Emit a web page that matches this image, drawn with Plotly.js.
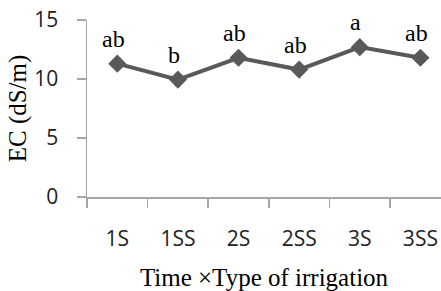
<!DOCTYPE html>
<html>
<head>
<meta charset="utf-8">
<script src="https://cdn.plot.ly/plotly-3.0.1.min.js"></script>
<style>html,body{margin:0;padding:0;background:#fff;}#chart{width:441px;height:291px;}</style>
</head>
<body>
<div id="chart"></div>
<script>
const categories = ["1S", "1SS", "2S", "2SS", "3S", "3SS"];
const ecValues = [11.3, 9.95, 11.8, 10.8, 12.7, 11.8];
const letters = ["ab", "b", "ab", "ab", "a", "ab"];
const yTicks = [0, 5, 10, 15];

const trace = {
  type: "scatter",
  mode: "lines+markers",
  x: categories,
  y: ecValues,
  line: {color: "#595959", width: 4},
  marker: {symbol: "diamond", size: 14, color: "#595959"},
  hoverinfo: "skip"
};

const annotations = categories.map((c, i) => ({
  x: c, y: ecValues[i], xref: "x", yref: "y",
  text: letters[i], showarrow: false,
  xshift: -4, yshift: 25,
  font: {family: "Liberation Serif", size: 24, color: "#000"}
}));

const layout = {
  width: 441, height: 291,
  margin: {l: 87, r: 0, t: 20, b: 94},
  paper_bgcolor: "#fff", plot_bgcolor: "#fff",
  showlegend: false,
  xaxis: {
    type: "category",
    range: [-0.5, 5.34],
    showline: true, linecolor: "#a6a6a6", linewidth: 1.5,
    ticks: "outside", tickson: "boundaries", ticklen: 9, tickcolor: "#a6a6a6", tickwidth: 1.5,
    showgrid: false, zeroline: false,
    tickfont: {family: "Open Sans", size: 21, color: "#222"},
    ticklabelstandoff: 22,
    automargin: false,
    title: {text: "Time ×Type of irrigation", font: {family: "Liberation Serif", size: 25, color: "#000"}, standoff: 26}
  },
  yaxis: {
    range: [0, 15],
    tickvals: yTicks,
    showline: true, linecolor: "#a6a6a6", linewidth: 1.5,
    ticks: "outside", ticklen: 9, tickcolor: "#a6a6a6", tickwidth: 1.5,
    showgrid: false, zeroline: false,
    tickfont: {family: "Open Sans", size: 21, color: "#222"},
    ticklabelstandoff: 14,
    automargin: false,
    title: {text: "EC (dS/m)", font: {family: "Liberation Serif", size: 25, color: "#000"}, standoff: 0}
  },
  annotations: annotations
};

Plotly.newPlot("chart", [trace], layout, {staticPlot: true, displayModeBar: false});
</script>
</body>
</html>
